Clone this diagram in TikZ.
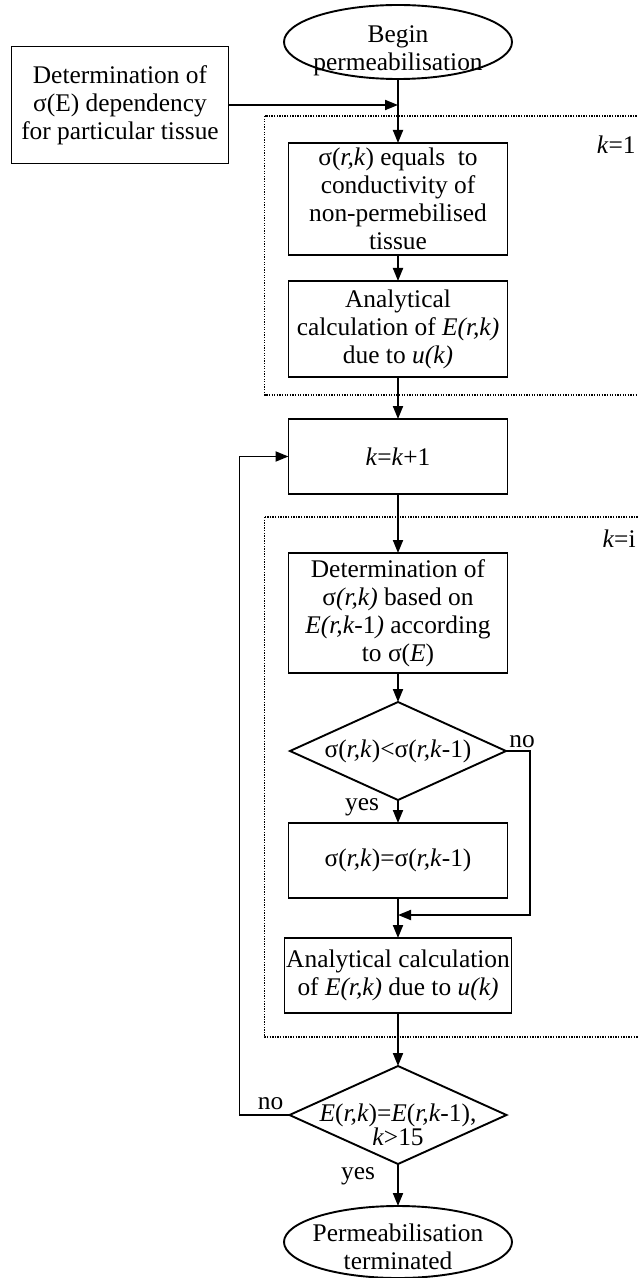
\documentclass[tikz,border=0pt]{standalone}
\usepackage{fontspec}
\setmainfont{Liberation Serif}
\usetikzlibrary{arrows.meta,positioning,shapes.geometric,calc,backgrounds}

\begin{document}
\begin{tikzpicture}[
  font=\fontsize{12.7pt}{14pt}\selectfont,
  box/.style={draw,line width=0.95pt,align=center,inner sep=0pt,outer sep=0pt,minimum width=109.5pt},
  term/.style={ellipse,draw,line width=0.95pt,align=center,inner xsep=-25pt,inner ysep=-5pt,outer sep=0pt,minimum width=114pt,minimum height=37pt},
  dec/.style={diamond,draw,line width=0.95pt,align=center,aspect=2.2,inner xsep=-20pt,inner ysep=-4pt,outer sep=0pt,minimum width=108pt,minimum height=49pt},
  grp/.style={dash pattern=on 0.65pt off 0.65pt,line width=0.85pt},
  lbl/.style={inner sep=1pt},
  ar/.style={-{Triangle[length=6.5pt,width=5pt]},line width=0.95pt}]
  \useasboundingbox (0,0) rectangle (318.5pt,-639pt);
  % start and k=1 step
  \node[term] (beg) at (199pt,-21pt) {\rule{0pt}{17pt}Begin\\permeabilisation};
  \node[box,minimum width=108.5pt,minimum height=58.5pt] (det) at (60pt,-52.5pt) {Determination of\\σ(E) dependency\\for particular tissue};
  \node[box,minimum height=56pt,below=32pt of beg] (s1) {σ(\textit{r,k}) equals~ to\\conductivity of\\non-permebilised\\tissue};
  \node[box,minimum height=48pt,below=13pt of s1] (a1) {Analytical\\calculation of \textit{E(r,k)}\\due to \textit{u(k)}};
  \node[box,minimum height=37.5pt,below=21pt of a1] (inc) {\textit{k}=\textit{k}+1};
  % k=i steps
  \node[box,minimum height=60pt,below=29.5pt of inc] (d3) {Determination of\\σ\textit{(r,k)} based on\\\textit{E(r,k}-1\textit{)} according\\to σ(\textit{E})};
  \node[dec,below=14.5pt of d3] (q1) {σ(\textit{r,k})<σ(\textit{r,k}-1)};
  \node[box,minimum height=37.5pt,below=11.5pt of q1] (s2) {σ(\textit{r,k})=σ(\textit{r,k}-1)};
  \node[box,minimum width=113.5pt,minimum height=37.5pt,below=20pt of s2] (a2) {Analytical calculation\\of \textit{E(r,k)} due to \textit{u(k)}};
  \node[dec,minimum width=108.5pt,below=26.5pt of a2] (q2) {\rule{0pt}{19pt}\textit{E}(\textit{r,k})=\textit{E}(\textit{r,k}-1),\\[-2pt]\textit{k}>15};
  \node[term,minimum height=36pt,below=21pt of q2] (fin) {\rule{0pt}{14pt}Permeabilisation\\terminated};
  \node[anchor=east,inner sep=0pt] (k1) at (318pt,-72.5pt) {\textit{k}=1};
  \node[anchor=east,inner sep=0pt] (ki) at (318pt,-269.5pt) {\textit{k}=i};
  \coordinate (edge) at (325pt,0);
  \coordinate[below=8.5pt of s2] (mrg);
  % connectors
  \draw[ar] (det) -- (det -| beg);
  \draw[ar] (beg) -- (s1); \draw[ar] (s1) -- (a1); \draw[ar] (a1) -- (inc);
  \draw[ar] (inc) -- (d3); \draw[ar] (d3) -- (q1);
  \draw[ar] (q1) -- node[lbl,left=8pt,pos=0.3] (yes1) {yes} (s2);
  \draw[ar] (q1.east) -- node[lbl,above,pos=0.67] (no1) {no} ++(12pt,0) |- (mrg);
  \draw[ar] (s2) -- (a2); \draw[ar] (a2) -- (q2);
  \draw[ar] (q2.west) -- node[lbl,above=1pt,pos=0.38] (no2) {no} ++(-25pt,0) |- (inc.west);
  \draw[ar] (q2) -- node[lbl,left=10pt,pos=0.3] (yes2) {yes} (fin);
  \begin{scope}[on background layer]
    \draw[grp] ($(s1.north west)+(-12pt,13.5pt)$) rectangle ($(a1.south -| edge)+(0,-9pt)$);
    \draw[grp] ($(d3.north west)+(-12pt,18pt)$) rectangle ($(a2.south -| edge)+(0,-12pt)$);
  \end{scope}
\end{tikzpicture}
\end{document}
